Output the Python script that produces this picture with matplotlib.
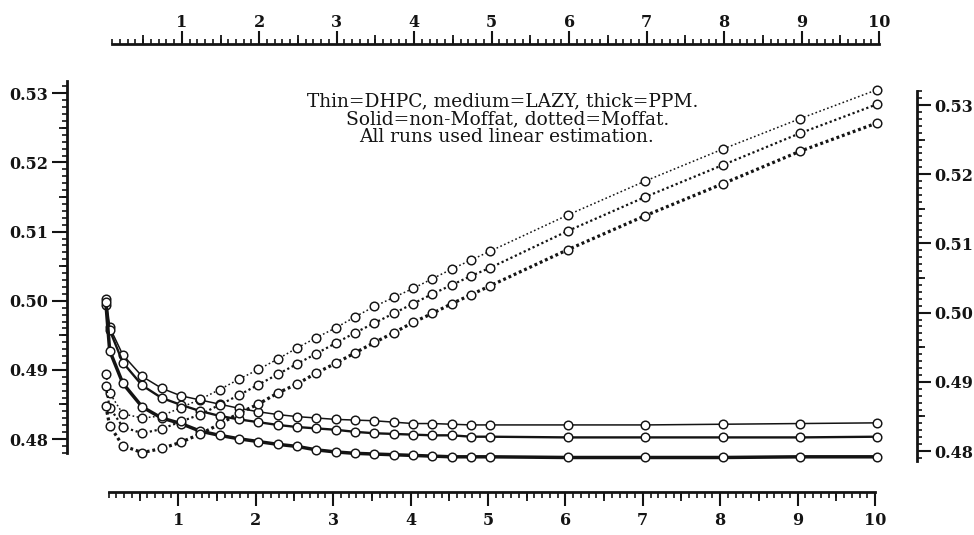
import matplotlib
matplotlib.use("Agg")
import matplotlib.pyplot as plt
from matplotlib.ticker import FixedLocator, FormatStrFormatter, NullFormatter
import numpy as np

# ---------------- data ----------------
x_vals = [0.03, 0.08, 0.25, 0.5, 0.75, 1.0, 1.25, 1.5, 1.75, 2.0, 2.25, 2.5,
          2.75, 3.0, 3.25, 3.5, 3.75, 4.0, 4.25, 4.5, 4.75, 5.0, 6, 7, 8, 9, 10]

dhpc_solid = [0.4994, 0.4962, 0.4922, 0.4891, 0.4874, 0.4863, 0.4857, 0.4851, 0.4845,
              0.4840, 0.4836, 0.4833, 0.4831, 0.4829, 0.4828, 0.4827, 0.4825, 0.4823,
              0.4823, 0.4822, 0.4821, 0.4821, 0.4821, 0.4821, 0.4822, 0.4823, 0.4824]
lazy_solid = [0.5003, 0.4958, 0.4911, 0.4878, 0.4860, 0.4850, 0.4841, 0.4834, 0.4829,
              0.4825, 0.4821, 0.4818, 0.4816, 0.4814, 0.4811, 0.4809, 0.4808, 0.4807,
              0.4806, 0.4806, 0.4804, 0.4804, 0.4803, 0.4803, 0.4803, 0.4803, 0.4804]
ppm_solid = [0.4998, 0.4928, 0.4881, 0.4847, 0.4831, 0.4823, 0.4812, 0.4806, 0.4801,
             0.4797, 0.4793, 0.4790, 0.4785, 0.4782, 0.4780, 0.4779, 0.4778, 0.4777,
             0.4776, 0.4775, 0.4775, 0.4775, 0.4774, 0.4774, 0.4774, 0.4775, 0.4775]

dhpc_moffat = [0.4894, 0.4867, 0.4837, 0.4831, 0.4834, 0.4846, 0.4858, 0.4872, 0.4887,
               0.4901, 0.4916, 0.4932, 0.4947, 0.4961, 0.4977, 0.4992, 0.5005, 0.5018,
               0.5032, 0.5046, 0.5059, 0.5072, 0.5124, 0.5173, 0.5219, 0.5263, 0.5305]
lazy_moffat = [0.4877, 0.4846, 0.4818, 0.4809, 0.4815, 0.4826, 0.4836, 0.4850, 0.4864,
               0.4879, 0.4894, 0.4909, 0.4924, 0.4939, 0.4954, 0.4968, 0.4982, 0.4996,
               0.5010, 0.5023, 0.5036, 0.5048, 0.5101, 0.5150, 0.5196, 0.5242, 0.5284]
ppm_moffat = [0.4848, 0.4820, 0.4791, 0.4781, 0.4787, 0.4796, 0.4808, 0.4822, 0.4838,
              0.4851, 0.4867, 0.4880, 0.4896, 0.4910, 0.4925, 0.4940, 0.4954, 0.4969,
              0.4982, 0.4996, 0.5009, 0.5022, 0.5074, 0.5123, 0.5169, 0.5216, 0.5257]

x_tick_labels = ["1", "2", "3", "4", "5", "6", "7", "8", "9", "10"]
y_tick_values = [0.48, 0.49, 0.50, 0.51, 0.52, 0.53]

note_lines = ["Thin=DHPC, medium=LAZY, thick=PPM.",
              "Solid=non-Moffat, dotted=Moffat.",
              "All runs used linear estimation."]

# ---------------- figure ----------------
W, H = 974, 535
fig = plt.figure(figsize=(W / 100, H / 100), dpi=100)
INK = "#141414"
SERIF = ["DejaVu Serif"]


def rect(x0, y_top, x1, y_bot):
    return [x0 / W, 1 - y_bot / H, (x1 - x0) / W, (y_bot - y_top) / H]


# data axes: x 0..10 -> px 103.5..877.5 ; y 0.476..0.532 -> px 467.2..79.14
ax = fig.add_axes(rect(103.5, 79.14, 877.5, 467.2))
ax.set_xlim(0, 10)
ax.set_ylim(0.476, 0.532)
ax.axis("off")

mk = dict(marker="o", ms=6.2, mfc="white", mec=INK, mew=1.05, clip_on=False, color=INK)
ax.plot(x_vals, dhpc_solid, lw=1.1, ls="-", zorder=3, **mk)
ax.plot(x_vals, lazy_solid, lw=1.7, ls="-", zorder=3, **mk)
ax.plot(x_vals, ppm_solid, lw=2.5, ls="-", zorder=3, **mk)
ax.plot(x_vals, dhpc_moffat, lw=1.1, ls=(0, (1.1, 1.6)), zorder=3, **mk)
ax.plot(x_vals, lazy_moffat, lw=1.6, ls=(0, (1, 1.2)), zorder=3, **mk)
ax.plot(x_vals, ppm_moffat, lw=2.3, ls=(0, (0.9, 0.9)), zorder=3, **mk)

# annotation
for txt, cx, by in zip(note_lines, [503, 508, 506], [106.7, 124.5, 142]):
    fig.text(cx / W, 1 - by / H, txt, ha="center", va="baseline",
             family=SERIF, fontsize=13.4, color=INK)


def style_ruler(a, side, lim, bounds, major, minor_step, medium, lens, pad,
                labels=None, fmt=None, vertical=False):
    for s in a.spines.values():
        s.set_visible(False)
    a.patch.set_alpha(0)
    sp = a.spines[side]
    sp.set_visible(True)
    sp.set_linewidth(2.0)
    sp.set_color(INK)
    sp.set_bounds(*bounds)
    axis = a.yaxis if vertical else a.xaxis
    other = a.xaxis if vertical else a.yaxis
    other.set_visible(False)
    if vertical:
        a.set_ylim(*lim)
        a.set_xlim(0, 1)
    else:
        a.set_xlim(*lim)
        a.set_ylim(0, 1)
    axis.set_ticks_position(side)
    axis.set_label_position(side)
    axis.set_major_locator(FixedLocator(major))
    if labels is not None:
        axis.set_ticklabels(labels)
    if fmt is not None:
        axis.set_major_formatter(FormatStrFormatter(fmt))
    lo, hi = bounds
    n0 = int(np.ceil(lo / minor_step - 1e-6))
    n1 = int(np.floor(hi / minor_step + 1e-6))
    minors = [k * minor_step for k in range(n0, n1 + 1)]
    axis.set_minor_locator(FixedLocator(minors))
    axis.set_minor_formatter(NullFormatter())
    a.tick_params(axis="y" if vertical else "x", which="major", direction="out",
                  length=lens[0], width=1.5, color=INK, pad=pad,
                  labelsize=11.5, labelcolor=INK)
    a.tick_params(axis="y" if vertical else "x", which="minor", direction="out",
                  length=lens[2], width=1.2, color=INK)
    for t in axis.get_ticklabels():
        t.set_family(SERIF)
        t.set_fontweight("bold")
    # medium ticks on an overlay axes
    b = fig.add_axes(a.get_position().bounds)
    for s in b.spines.values():
        s.set_visible(False)
    b.patch.set_alpha(0)
    baxis = b.yaxis if vertical else b.xaxis
    bother = b.xaxis if vertical else b.yaxis
    bother.set_visible(False)
    if vertical:
        b.set_ylim(*lim)
        b.set_xlim(0, 1)
    else:
        b.set_xlim(*lim)
        b.set_ylim(0, 1)
    baxis.set_ticks_position(side)
    baxis.set_major_locator(FixedLocator(medium))
    baxis.set_major_formatter(NullFormatter())
    b.tick_params(axis="y" if vertical else "x", which="major", direction="out",
                  length=lens[1], width=1.3, color=INK)
    baxis.set_minor_locator(FixedLocator([]))


int_ticks = [1, 2, 3, 4, 5, 6, 7, 8, 9, 10]
half_ticks = [0.5, 1.5, 2.5, 3.5, 4.5, 5.5, 6.5, 7.5, 8.5, 9.5]

# top ruler: baseline at y=45, x: 0 -> 104.3 px, 10 -> 879 px
top = fig.add_axes(rect(104.3, 44, 879.0, 45))
style_ruler(top, "top", (0, 10), (0.1, 10), int_ticks, 0.1, half_ticks,
            (9.4, 6.5, 3.6), 0.0, labels=x_tick_labels)

# bottom ruler: baseline at y=491, x: 0 -> 100.9 px, 10 -> 875 px
bot = fig.add_axes(rect(100.9, 491, 875.0, 492))
style_ruler(bot, "bottom", (0, 10), (0.1, 10), int_ticks, 0.1, half_ticks,
            (10.0, 6.5, 4.3), 4.5, labels=x_tick_labels)

med_y = [0.485, 0.495, 0.505, 0.515, 0.525]
# left ruler: spine at x=68, 0.53 -> 93.3 px, 0.48 -> 439 px
left = fig.add_axes(rect(67, 79.5, 68, 466.7))
style_ruler(left, "left", (0.476, 0.532), (0.478, 0.5318), y_tick_values, 0.001, med_y,
            (10.8, 6.0, 3.8), 3.0, fmt="%.2f", vertical=True)

# right ruler: spine at x=916, 0.53 -> 105 px, 0.48 -> 451 px
right = fig.add_axes(rect(916, 91.2, 917, 478.7))
style_ruler(right, "right", (0.476, 0.532), (0.4785, 0.532), y_tick_values, 0.001, med_y,
            (10.0, 5.8, 3.6), 2.5, fmt="%.2f", vertical=True)

fig.savefig("out.png", dpi=100)
